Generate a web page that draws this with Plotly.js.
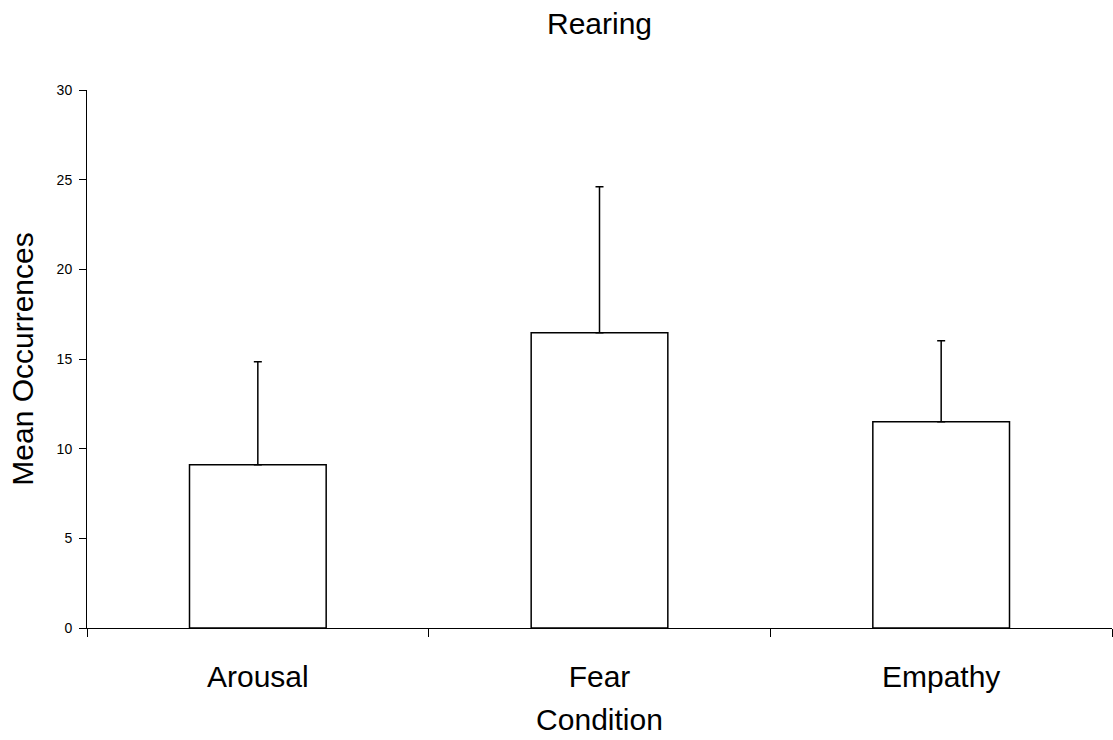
<!DOCTYPE html>
<html>
<head>
<meta charset="utf-8">
<script src="https://cdn.plot.ly/plotly-3.0.1.min.js"></script>
<style>html,body{margin:0;padding:0;background:#fff;}#chart{width:1113px;height:740px;}</style>
</head>
<body>
<div id="chart"></div>
<script>
const categories = ["Arousal", "Fear", "Empathy"];
const means = [9.10, 16.47, 11.50];
const errorsUp = [5.74, 8.14, 4.52];
const errorsDown = [0, 0, 0];
const yTickVals = [0, 5, 10, 15, 20, 25, 30];

const FONT = "Liberation Sans, Arial, sans-serif";

const trace = {
  type: "bar",
  x: categories,
  y: means,
  marker: { color: "#ffffff", line: { color: "#000000", width: 1.5 } },
  error_y: {
    type: "data",
    symmetric: false,
    array: errorsUp,
    arrayminus: errorsDown,
    color: "#000000",
    thickness: 1.5,
    width: 4
  },
  hoverinfo: "skip"
};

const layout = {
  width: 1113,
  height: 740,
  margin: { l: 87, r: 1, t: 90, b: 112 },
  paper_bgcolor: "#ffffff",
  plot_bgcolor: "#ffffff",
  showlegend: false,
  bargap: 0.6,
  font: { family: FONT, color: "#000000" },
  title: {
    text: "Rearing",
    font: { family: FONT, size: 30, color: "#000000" },
    x: 0.5, xanchor: "center", xref: "paper",
    y: 1 - 23 / 740, yref: "container", yanchor: "middle"
  },
  xaxis: {
    type: "category",
    tickson: "boundaries",
    ticks: "outside",
    ticklen: 8,
    tickwidth: 1,
    tickcolor: "#000000",
    ticklabelstandoff: 22,
    showline: true,
    linecolor: "#000000",
    linewidth: 1,
    showgrid: false,
    zeroline: false,
    tickfont: { family: FONT, size: 30, color: "#000000" },
    title: { text: "Condition", font: { family: FONT, size: 30, color: "#000000" }, standoff: 16 }
  },
  yaxis: {
    range: [0, 30],
    tickvals: yTickVals,
    ticktext: yTickVals.map(String),
    ticks: "outside",
    ticklen: 7,
    tickwidth: 1,
    tickcolor: "#000000",
    ticklabelstandoff: 4,
    showline: true,
    linecolor: "#000000",
    linewidth: 1,
    showgrid: false,
    zeroline: false,
    tickfont: { family: FONT, size: 14, color: "#000000" },
    title: { text: "Mean Occurrences", font: { family: FONT, size: 30, color: "#000000" }, standoff: 14 }
  }
};

Plotly.newPlot("chart", [trace], layout, { displayModeBar: false, staticPlot: true });
</script>
</body>
</html>
